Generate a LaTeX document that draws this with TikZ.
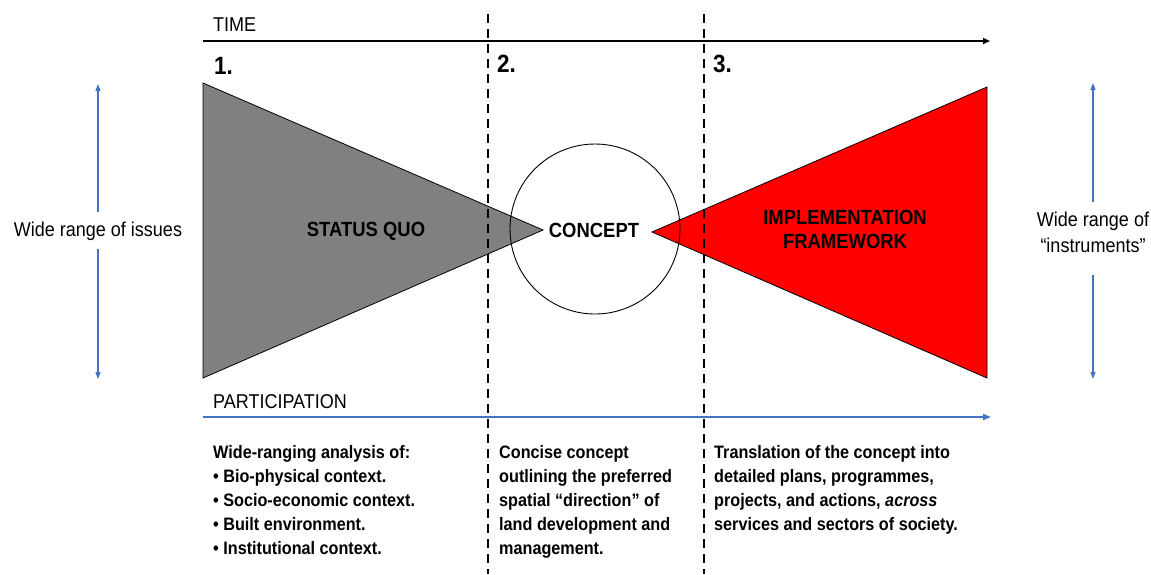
\documentclass[tikz,border=0pt]{standalone}
\usepackage{fontspec}
\setmainfont[FakeStretch=0.9]{Liberation Sans}
\usetikzlibrary{arrows.meta}
\definecolor{oblue}{HTML}{4472C4}
\definecolor{tgray}{RGB}{128,128,128}
\tikzset{
  lbl/.style={font=\fontsize{20}{26}\selectfont, inner sep=0pt},
  numlbl/.style={font=\fontsize{25}{28}\selectfont\bfseries, inner sep=0pt, anchor=west},
  shapelbl/.style={font=\fontsize{20.5}{24}\selectfont\bfseries, inner sep=0pt, align=center},
  desc/.style={font=\fontsize{18}{24}\selectfont\bfseries, inner sep=0pt, anchor=north west, align=left},
  divider/.style={line width=2.2pt, dash pattern=on 9pt off 6pt},
  timeaxis/.style={line width=1.8pt, -{Triangle[length=7pt,width=6pt]}},
  partaxis/.style={oblue, line width=1.8pt, -{Triangle[length=8pt,width=6pt]}},
  rangearrow/.style={oblue, line width=1.2pt, -{Triangle[length=7pt,width=5pt]}},
}
\begin{document}
\begin{tikzpicture}[x=1pt,y=-1pt]
\useasboundingbox (0,0) rectangle (1151,574);
% triangles and circle
\fill[tgray] (203,83) -- (543,230) -- (203,378) -- cycle;
\draw[line width=0.8pt] (203,83) -- (543,230) -- (203,378) -- cycle;
\fill[red] (987,87) -- (652,232) -- (987,378) -- cycle;
\draw[line width=0.8pt] (987,87) -- (652,232) -- (987,378) -- cycle;
\node[draw, circle, line width=0.9pt, minimum size=170pt, inner sep=0pt] (circ) at (595,229) {};
% shape labels
\node[shapelbl] (sq) at (366,231) {STATUS QUO};
\node[shapelbl] (con) at (594,230) {CONCEPT};
\node[shapelbl] (impl) at (845,229) {IMPLEMENTATION\\FRAMEWORK};
% time axis
\coordinate (t0) at (203,41);
\coordinate (t1) at (990,41);
\draw[timeaxis] (t0) -- (t1);
\node[lbl, anchor=west] (time) at (213,25) {TIME};
% participation axis
\coordinate (p0) at (203,417);
\coordinate (p1) at (991,417);
\draw[partaxis] (p0) -- (p1);
\node[lbl, anchor=west] (part) at (213,402) {PARTICIPATION};
% numbers
\node[numlbl] (n1) at (214,66) {1.};
\node[numlbl] (n2) at (497,64) {2.};
\node[numlbl] (n3) at (713,64) {3.};
% dividers
\coordinate (d1t) at (488,14);
\coordinate (d1b) at (488,574);
\coordinate (d2t) at (704,14);
\coordinate (d2b) at (704,574);
\draw[divider] (d1t) -- (d1b);
\draw[divider] (d2t) -- (d2b);
% left range arrow
\node[lbl] (issues) at (98,231) {Wide range of issues};
\coordinate (lt) at (98,84);
\coordinate (lgt) at (98,212);
\coordinate (lgb) at (98,249);
\coordinate (lb) at (98,379);
\draw[rangearrow] (lgt) -- (lt);
\draw[rangearrow] (lgb) -- (lb);
% right range arrow
\node[lbl, align=center] (instr) at (1093,232) {Wide range of\\“instruments”};
\coordinate (rt) at (1093,83);
\coordinate (rgt) at (1093,202);
\coordinate (rgb) at (1093,275);
\coordinate (rb) at (1093,379);
\draw[rangearrow] (rgt) -- (rt);
\draw[rangearrow] (rgb) -- (rb);
% descriptions
\node[desc] (d1) at (213,445) {Wide-ranging analysis of:\\
• Bio-physical context.\\
• Socio-economic context.\\
• Built environment.\\
• Institutional context.};
\node[desc] (d2) at (499,445) {Concise concept\\
outlining the preferred\\
spatial “direction” of\\
land development and\\
management.};
\node[desc] (d3) at (714,445) {Translation of the concept into\\
detailed plans, programmes,\\
projects, and actions, \textit{across}\\
services and sectors of society.};
\end{tikzpicture}
\end{document}
